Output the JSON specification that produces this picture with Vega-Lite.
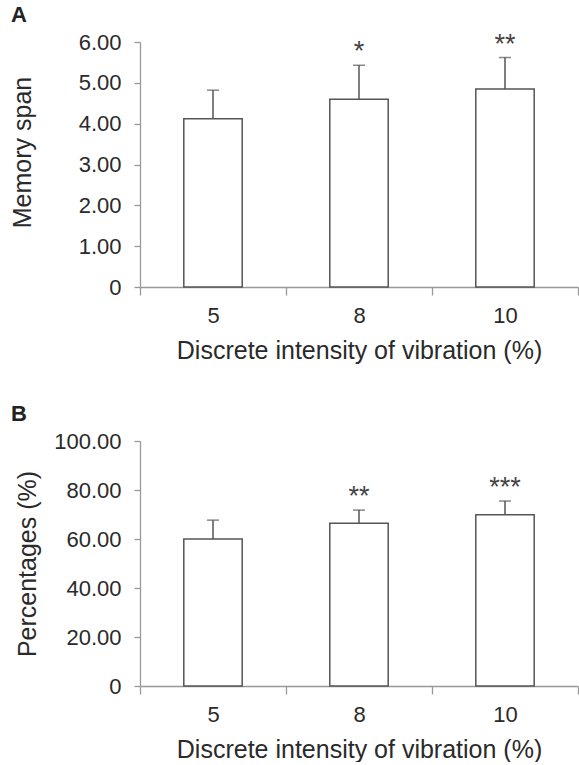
{
  "$schema": "https://vega.github.io/schema/vega-lite/v6.json",
  "background": "white",
  "padding": {"left": 10, "top": 3, "right": 0, "bottom": 0},
  "spacing": 40,
  "config": {
    "view": {"stroke": null},
    "font": "Liberation Sans",
    "axis": {
      "domainColor": "#999999",
      "tickColor": "#999999",
      "domainWidth": 1.3,
      "tickWidth": 1.3,
      "labelColor": "#2a2a2a",
      "titleColor": "#2a2a2a",
      "labelFont": "Liberation Sans",
      "titleFont": "Liberation Sans",
      "labelFontSize": 22,
      "titleFontSize": 25,
      "titleFontWeight": "normal",
      "grid": false
    },
    "title": {"fontSize": 22, "fontWeight": "bold", "color": "#222222", "anchor": "start", "frame": "group", "font": "Liberation Sans"}
  },
  "vconcat": [
    {
      "title": {"text": "A", "dx": -129},
      "width": 438,
      "height": 245,
      "data": {"values": [
        {"intensity": "5", "mean": 4.12, "upper": 4.82, "sig": ""},
        {"intensity": "8", "mean": 4.60, "upper": 5.43, "sig": "*"},
        {"intensity": "10", "mean": 4.85, "upper": 5.62, "sig": "**"}
      ]},
      "encoding": {
        "x": {
          "field": "intensity", "type": "ordinal", "sort": ["5", "8", "10"],
          "scale": {"paddingInner": 0, "paddingOuter": 0},
          "axis": {"title": "Discrete intensity of vibration (%)", "labelAngle": 0, "tickBand": "extent", "tickSize": 8, "labelPadding": 27, "labelBaseline": "alphabetic", "titleBaseline": "alphabetic", "titleY": 71}
        }
      },
      "layer": [
        {
          "mark": {"type": "bar", "fill": "white", "stroke": "#555555", "strokeWidth": 1.5, "width": {"band": 0.4}},
          "encoding": {
            "y": {
              "field": "mean", "type": "quantitative", "title": "Memory span",
              "scale": {"domain": [0, 6], "nice": false},
              "axis": {"values": [0, 1, 2, 3, 4, 5, 6], "labelExpr": "datum.value == 0 ? '0' : format(datum.value, '.2f')", "tickSize": 6, "labelPadding": 13, "titleX": -110, "titleY": 110, "titleBaseline": "alphabetic"}
            }
          }
        },
        {
          "mark": {"type": "rule", "color": "#555555", "strokeWidth": 1.5},
          "encoding": {"y": {"field": "mean", "type": "quantitative", "title": "Memory span"}, "y2": {"field": "upper"}}
        },
        {
          "mark": {"type": "tick", "color": "#555555", "thickness": 1.5, "size": 12},
          "encoding": {"y": {"field": "upper", "type": "quantitative", "title": "Memory span"}}
        },
        {
          "mark": {"type": "text", "fontSize": 27, "color": "#444444", "baseline": "alphabetic", "dy": -5},
          "encoding": {"y": {"field": "upper", "type": "quantitative", "title": "Memory span"}, "text": {"field": "sig"}}
        }
      ]
    },
    {
      "title": {"text": "B", "dx": -129},
      "width": 438,
      "height": 245,
      "data": {"values": [
        {"intensity": "5", "mean": 60.0, "upper": 67.7, "sig": ""},
        {"intensity": "8", "mean": 66.4, "upper": 71.8, "sig": "**"},
        {"intensity": "10", "mean": 69.9, "upper": 75.5, "sig": "***"}
      ]},
      "encoding": {
        "x": {
          "field": "intensity", "type": "ordinal", "sort": ["5", "8", "10"],
          "scale": {"paddingInner": 0, "paddingOuter": 0},
          "axis": {"title": "Discrete intensity of vibration (%)", "labelAngle": 0, "tickBand": "extent", "tickSize": 8, "labelPadding": 27, "labelBaseline": "alphabetic", "titleBaseline": "alphabetic", "titleY": 71}
        }
      },
      "layer": [
        {
          "mark": {"type": "bar", "fill": "white", "stroke": "#555555", "strokeWidth": 1.5, "width": {"band": 0.4}},
          "encoding": {
            "y": {
              "field": "mean", "type": "quantitative", "title": "Percentages (%)",
              "scale": {"domain": [0, 100], "nice": false},
              "axis": {"values": [0, 20, 40, 60, 80, 100], "labelExpr": "datum.value == 0 ? '0' : format(datum.value, '.2f')", "tickSize": 6, "labelPadding": 13, "titleX": -105, "titleBaseline": "alphabetic"}
            }
          }
        },
        {
          "mark": {"type": "rule", "color": "#555555", "strokeWidth": 1.5},
          "encoding": {"y": {"field": "mean", "type": "quantitative", "title": "Percentages (%)"}, "y2": {"field": "upper"}}
        },
        {
          "mark": {"type": "tick", "color": "#555555", "thickness": 1.5, "size": 12},
          "encoding": {"y": {"field": "upper", "type": "quantitative", "title": "Percentages (%)"}}
        },
        {
          "mark": {"type": "text", "fontSize": 27, "color": "#444444", "baseline": "alphabetic", "dy": -5},
          "encoding": {"y": {"field": "upper", "type": "quantitative", "title": "Percentages (%)"}, "text": {"field": "sig"}}
        }
      ]
    }
  ]
}
